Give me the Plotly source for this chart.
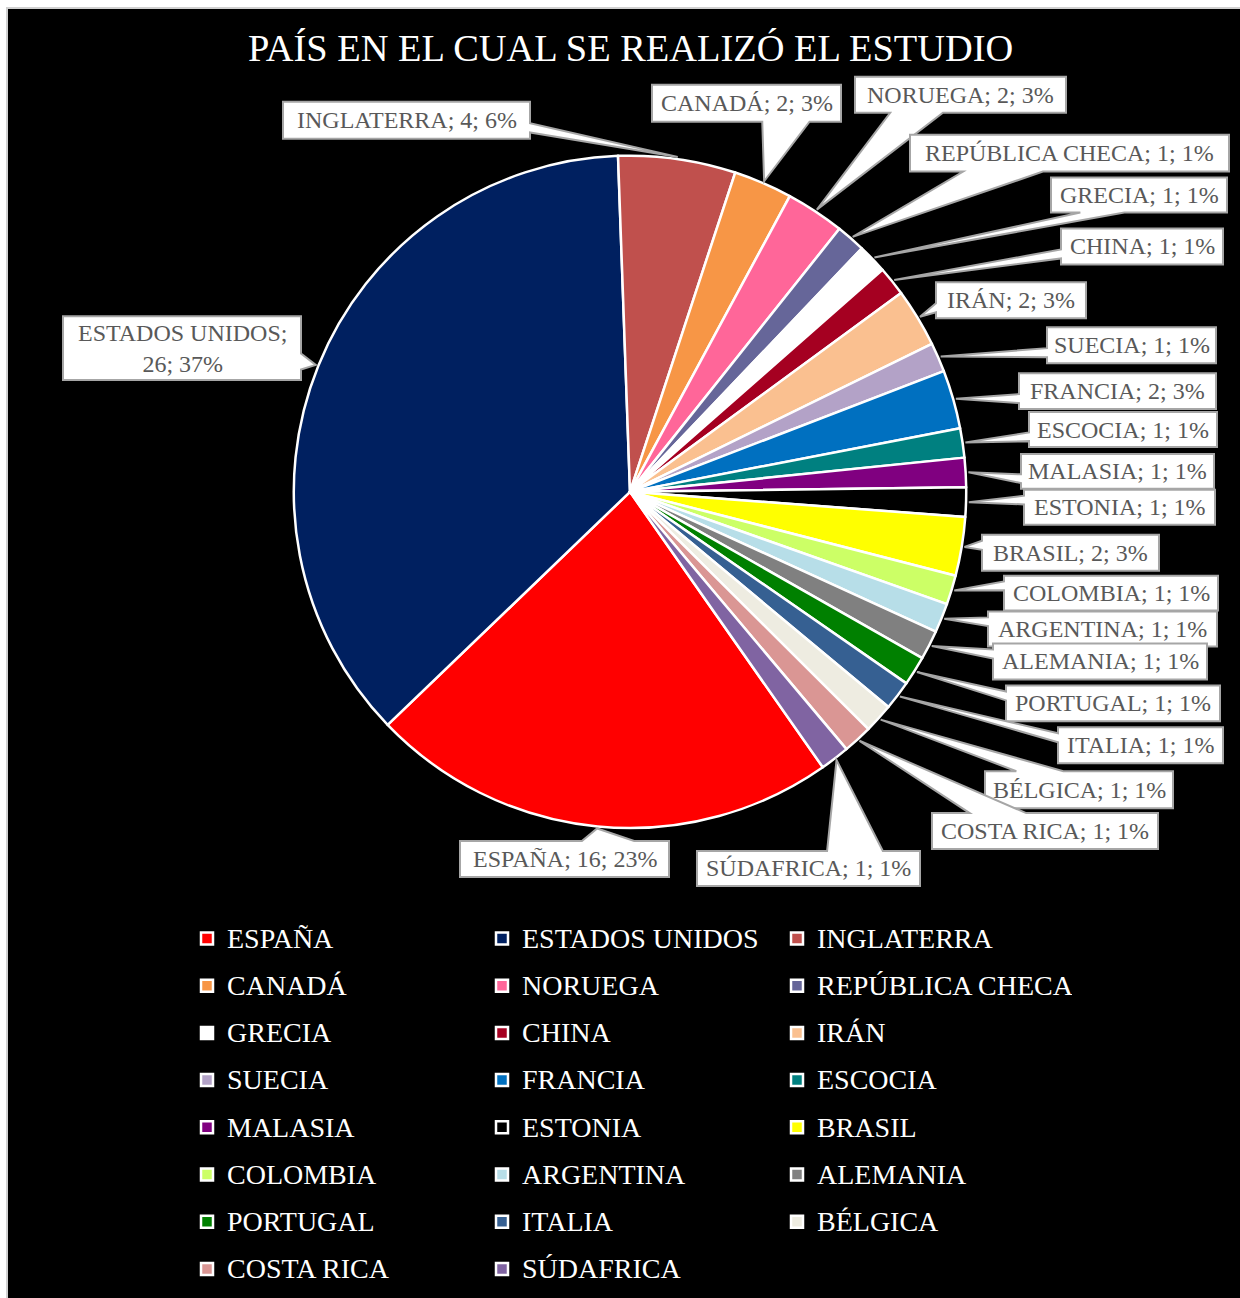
import math
import plotly.graph_objects as go

# ---------------- data ----------------
countries = ["ESPAÑA", "ESTADOS UNIDOS", "INGLATERRA", "CANADÁ", "NORUEGA",
             "REPÚBLICA CHECA", "GRECIA", "CHINA", "IRÁN", "SUECIA", "FRANCIA",
             "ESCOCIA", "MALASIA", "ESTONIA", "BRASIL", "COLOMBIA", "ARGENTINA",
             "ALEMANIA", "PORTUGAL", "ITALIA", "BÉLGICA", "COSTA RICA", "SÚDAFRICA"]
studies = [16, 26, 4, 2, 2, 1, 1, 1, 2, 1, 2, 1, 1, 1, 2, 1, 1, 1, 1, 1, 1, 1, 1]
colors = ["#FF0000", "#002060", "#C0504D", "#F79646", "#FF6699", "#666699",
          "#FFFFFF", "#A50021", "#FAC090", "#B3A2C7", "#0070C0", "#008080",
          "#800080", "#000000", "#FFFF00", "#CCFF66", "#B7DEE8", "#808080",
          "#008000", "#366092", "#EEECE1", "#DA9694", "#8064A2"]
title_text = "PAÍS EN EL CUAL SE REALIZÓ EL ESTUDIO"

# ---------------- layout (pixel boxes of the data labels: x0, x1, y0, y1) ----------------
label_boxes = [
    (460, 669, 843, 879),    # ESPAÑA
    (63, 301, 317, 381),     # ESTADOS UNIDOS
    (283, 530, 102, 139),    # INGLATERRA
    (652, 841, 85, 122),     # CANADÁ
    (855, 1066, 77, 113),    # NORUEGA
    (910, 1229, 135, 172),   # REPÚBLICA CHECA
    (1051, 1227, 178, 213),  # GRECIA
    (1061, 1223, 229, 265),  # CHINA
    (936, 1086, 283, 319),   # IRÁN
    (1047, 1216, 328, 364),  # SUECIA
    (1019, 1216, 374, 410),  # FRANCIA
    (1029, 1217, 413, 448),  # ESCOCIA
    (1021, 1214, 455, 490),  # MALASIA
    (1024, 1215, 491, 526),  # ESTONIA
    (982, 1159, 536, 572),   # BRASIL
    (1004, 1218, 577, 612),  # COLOMBIA
    (988, 1217, 613, 648),   # ARGENTINA
    (993, 1207, 645, 681),   # ALEMANIA
    (1006, 1220, 687, 723),  # PORTUGAL
    (1058, 1223, 729, 765),  # ITALIA
    (985, 1173, 773, 810),   # BÉLGICA
    (932, 1158, 815, 851),   # COSTA RICA
    (697, 920, 853, 888),    # SÚDAFRICA
]

W, H = 1240, 1298
ML, MR = 150, 150
PW = W - ML - MR
CX, CY, R = 630, 493, 337
ROT = 145


def xp(px):
    return (px - ML) / PW


def yp(py):
    return 1 - py / H


total = sum(studies)

# slice mid angles (clockwise from 12 o'clock), same convention as plotly
mids = []
acc = ROT
for v in studies:
    span = v / total * 360.0
    mids.append(acc + span / 2)
    acc += span


def callout_path(box, tip):
    x0, x1, y0, y1 = box
    tx, ty = tip
    w, h = x1 - x0, y1 - y0
    hc, vc = (x0 + x1) / 2, (y0 + y1) / 2
    dxp, dyp = tx - hc, ty - vc
    dz = abs(dyp) - abs(dxp * h / w)
    pts = [(x0, y0)]
    if dz > 0:
        xa = x0 + w * (7 if dxp > 0 else 2) / 12
        xb = x0 + w * (10 if dxp > 0 else 5) / 12
        if dyp < 0:
            pts += [(xa, y0), (tx, ty), (xb, y0), (x1, y0), (x1, y1), (x0, y1)]
        else:
            pts += [(x1, y0), (x1, y1), (xb, y1), (tx, ty), (xa, y1), (x0, y1)]
    else:
        ya = y0 + h * (7 if dyp > 0 else 2) / 12
        yb = y0 + h * (10 if dyp > 0 else 5) / 12
        if dxp > 0:
            pts += [(x1, y0), (x1, ya), (tx, ty), (x1, yb), (x1, y1), (x0, y1)]
        else:
            pts += [(x1, y0), (x1, y1), (x0, y1), (x0, yb), (tx, ty), (x0, ya)]
    s = "M " + " L ".join(f"{xp(a):.5f},{yp(b):.5f}" for a, b in pts) + " Z"
    return s


shapes = [dict(type="rect", xref="paper", yref="paper", layer="below",
               x0=xp(7), x1=xp(1260), y0=yp(1320), y1=yp(8),
               fillcolor="black", line=dict(color="#D0D0D0", width=2))]
annotations = []
TIP_R = R + 2
for i, c in enumerate(countries):
    a = math.radians(mids[i])
    tip = (CX + TIP_R * math.sin(a), CY - TIP_R * math.cos(a))
    box = label_boxes[i]
    shapes.append(dict(type="path", xref="paper", yref="paper", layer="above",
                       path=callout_path(box, tip), fillcolor="white",
                       line=dict(color="#A6A6A6", width=2)))
    pct = round(studies[i] / total * 100)
    sep = ";<br>" if c == "ESTADOS UNIDOS" else "; "
    annotations.append(dict(
        text=f"{c}{sep}{studies[i]}; {pct}%", xref="paper", yref="paper",
        x=xp((box[0] + box[1]) / 2), y=yp((box[2] + box[3]) / 2),
        xanchor="center", yanchor="middle", showarrow=False,
        font=dict(family="Liberation Serif", size=24, color="#595959")))

annotations.append(dict(text=title_text, xref="paper", yref="paper",
                        x=xp(630), y=yp(48), xanchor="center", yanchor="middle",
                        showarrow=False,
                        font=dict(family="Liberation Serif", size=38.4, color="white")))

legend_labels = [f"<span style='font-size:28px;baseline-shift:4px'>{c}</span>"
                 for c in countries]

fig = go.Figure(go.Pie(
    labels=legend_labels, values=studies, sort=False, direction="clockwise",
    rotation=ROT, textinfo="none", hoverinfo="label+value+percent",
    marker=dict(colors=colors, line=dict(color="white", width=2.5)),
    domain=dict(x=[xp(CX - R), xp(CX + R)], y=[yp(CY + R), yp(CY - R)]),
))

fig.update_layout(
    width=W, height=H, autosize=False,
    margin=dict(l=ML, r=MR, t=0, b=0, pad=0),
    paper_bgcolor="white", plot_bgcolor="black",
    shapes=shapes, annotations=annotations,
    showlegend=True,
    legend=dict(orientation="h", x=xp(187), xanchor="left", y=yp(912), yanchor="top",
                font=dict(family="Liberation Serif", size=34, color="white"),
                entrywidth=250, entrywidthmode="pixels",
                bgcolor="rgba(0,0,0,0)", traceorder="normal"),
)

fig.write_html("out.html")
